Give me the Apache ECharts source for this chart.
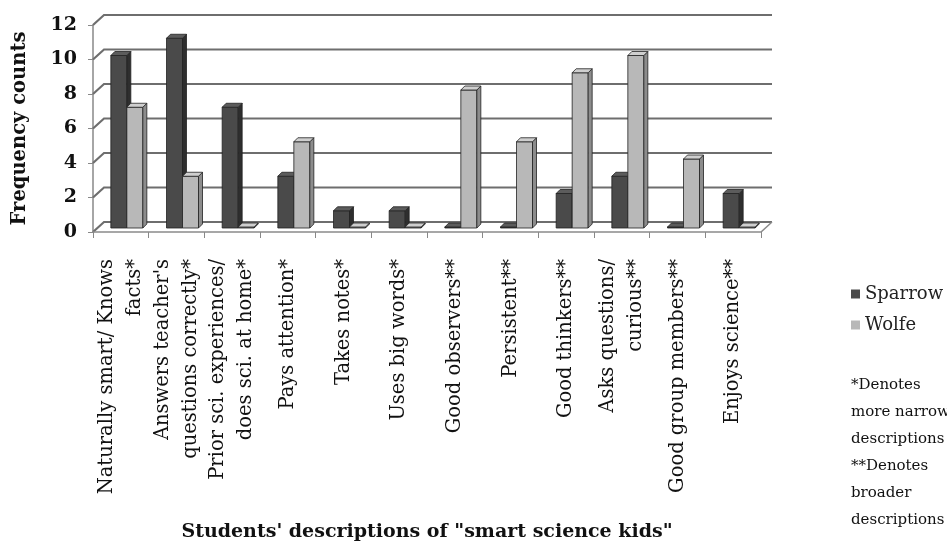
<!DOCTYPE html>
<html>
<head>
<meta charset="utf-8">
<script src="https://cdn.jsdelivr.net/npm/echarts@6/dist/echarts.min.js"></script>
<style>
  html, body { margin: 0; padding: 0; background: #fff; }
  #chart { width: 947px; height: 548px; }
</style>
</head>
<body>
<div id="chart"></div>
<script>
// data
var categories = [
    'Naturally smart/ Knows\nfacts*',
    "Answers teacher's\nquestions correctly*",
    'Prior sci. experiences/\ndoes sci. at home*',
    'Pays attention*',
    'Takes notes*',
    'Uses big words*',
    'Good observers**',
    'Persistent**',
    'Good thinkers**',
    'Asks questions/\ncurious**',
    'Good group members**',
    'Enjoys science**'
];
var sparrow = [10, 11, 7, 3, 1, 1, 0, 0, 2, 3, 0, 2];
var wolfe = [7, 3, 0, 5, 0, 0, 8, 5, 9, 10, 4, 0];
var yTicks = [0, 2, 4, 6, 8, 10, 12];

var FONT = '"DejaVu Serif", "Liberation Serif", serif';

/*3D look: wall shifted back, bars sit half way on the floor*/
var WALL_DX = 11, WALL_DY = -10;
var BAR_DX = 5, BAR_DY = -4;
var BAR_W = 16, DEPTH = 4;

function barRenderer(offset, front, side, top) {
    return function (params, api) {
        var i = api.value(0), v = api.value(1);
        var base = api.coord([i, 0]);
        var tip = api.coord([i, v]);
        var x0 = base[0] + offset + BAR_DX;
        var yb = base[1] + BAR_DY;
        var yt = tip[1] + BAR_DY;
        if (v === 0) yt = yb - 1;
        var w = BAR_W, d = DEPTH;
        var line = {stroke: '#222', lineWidth: 0.8};
        return {
            type: 'group',
            children: [
                {type: 'rect', shape: {x: x0, y: yt, width: w, height: yb - yt},
                    style: Object.assign({fill: front}, line)},
                {type: 'polygon', shape: {points: [[x0 + w, yt], [x0 + w + d, yt - d], [x0 + w + d, yb - d], [x0 + w, yb]]},
                    style: Object.assign({fill: side}, line)},
                {type: 'polygon', shape: {points: [[x0, yt], [x0 + d, yt - d], [x0 + w + d, yt - d], [x0 + w, yt]]},
                    style: Object.assign({fill: top}, line)}
            ]
        };
    };
}

function wallRenderer(params, api) {
    var cs = params.coordSys;
    var v = api.value(0);
    var p = api.coord([0, v]);
    var xl = cs.x, xr = cs.x + cs.width, y = p[1];
    var kids = [{
        type: 'polyline',
        shape: {points: [[xl, y], [xl + WALL_DX, y + WALL_DY], [xr + WALL_DX, y + WALL_DY]]},
        style: {stroke: '#6e6e6e', lineWidth: 2.2, fill: null}
    }];
    if (v === 0) {
        kids.push({
            type: 'polyline',
            shape: {points: [[xl, y], [xr, y], [xr + WALL_DX, y + WALL_DY]]},
            style: {stroke: '#8a8a8a', lineWidth: 1.5, fill: null}
        });
    }
    return {type: 'group', children: kids};
}

var myChart = echarts.init(document.getElementById('chart'));

var option = {
    backgroundColor: '#fff',
    animation: false,
    grid: {left: 93, right: 186, top: 25, bottom: 316},
    legend: {
        orient: 'vertical',
        left: 846,
        top: 280,
        data: ['Sparrow', 'Wolfe'],
        icon: 'rect',
        itemWidth: 9,
        itemHeight: 9,
        itemGap: 13,
        textStyle: {fontFamily: FONT, fontSize: 18, color: '#222'}
    },
    xAxis: {
        type: 'category',
        data: categories,
        name: 'Students\' descriptions of "smart science kids"',
        nameLocation: 'middle',
        nameGap: 291,
        nameTextStyle: {fontFamily: FONT, fontSize: 19, fontWeight: 'bold', color: '#111'},
        axisLine: {show: false},
        axisTick: {show: true, length: 6, lineStyle: {color: '#888'}},
        axisLabel: {
            interval: 0,
            rotate: 90,
            margin: 27,
            fontFamily: FONT,
            fontSize: 19.5,
            lineHeight: 28,
            color: '#111'
        }
    },
    yAxis: {
        type: 'value',
        min: 0,
        max: 12,
        interval: 2,
        name: 'Frequency counts',
        nameLocation: 'middle',
        nameGap: 63,
        nameTextStyle: {fontFamily: FONT, fontSize: 19.5, fontWeight: 'bold', color: '#111'},
        axisLine: {show: true, lineStyle: {color: '#888', width: 1.5}},
        axisTick: {show: true, length: 5, lineStyle: {color: '#888'}},
        splitLine: {show: false},
        axisLabel: {fontFamily: FONT, fontSize: 19, fontWeight: 'bold', color: '#111', margin: 16}
    },
    graphic: [{
        type: 'text',
        left: 851,
        top: 372,
        silent: true,
        style: {
            text: '*Denotes\nmore narrow\ndescriptions\n**Denotes\nbroader\ndescriptions',
            font: '15px ' + FONT,
            lineHeight: 27,
            fill: '#111'
        }
    }],
    series: [
        {
            name: 'wall',
            type: 'custom',
            silent: true,
            z: 1,
            renderItem: wallRenderer,
            encode: {y: 0},
            data: yTicks.map(function (t) { return [t]; })
        },
        {
            name: 'Sparrow',
            type: 'custom',
            z: 2,
            itemStyle: {color: '#4a4a4a'},
            renderItem: barRenderer(-15, '#4a4a4a', '#2e2e2e', '#5c5c5c'),
            encode: {x: 0, y: 1},
            data: sparrow.map(function (v, i) { return [i, v]; })
        },
        {
            name: 'Wolfe',
            type: 'custom',
            z: 3,
            itemStyle: {color: '#b8b8b8'},
            renderItem: barRenderer(1, '#b8b8b8', '#8c8c8c', '#cfcfcf'),
            encode: {x: 0, y: 1},
            data: wolfe.map(function (v, i) { return [i, v]; })
        }
    ]
};

myChart.setOption(option);
</script>
</body>
</html>
